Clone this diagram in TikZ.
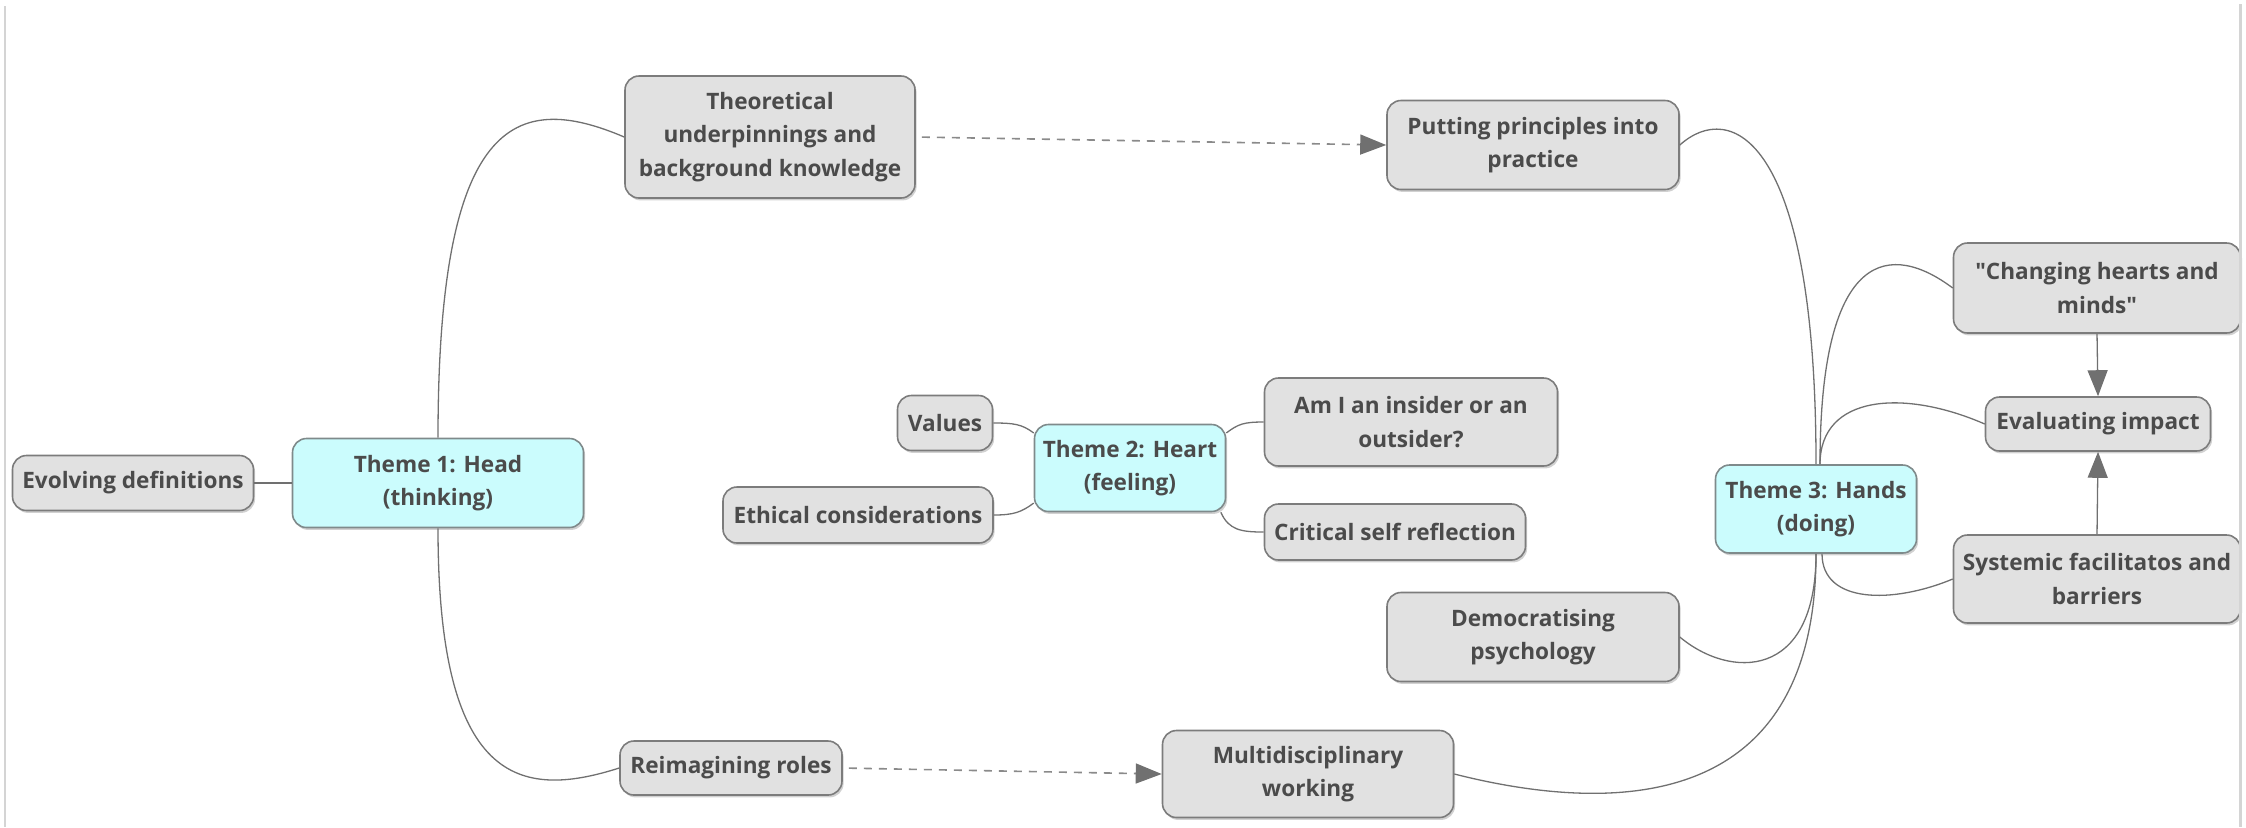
\documentclass[tikz,border=0pt]{standalone}
\usepackage{fontspec}
\newfontfamily\boxfont{Open Sans}
\usepackage{xcolor}
\usetikzlibrary{arrows.meta,positioning,shadows}

\definecolor{boxfill}{HTML}{E1E1E1}
\definecolor{boxline}{HTML}{7C7C7C}
\definecolor{themefill}{HTML}{CBFCFD}
\definecolor{themeline}{HTML}{7F8A8B}
\definecolor{txtgrey}{HTML}{4B4B4B}
\definecolor{linkgrey}{HTML}{707070}
\definecolor{dashgrey}{HTML}{8A8A8A}
\definecolor{framegrey}{HTML}{D4D4D4}

\begin{document}
\begin{tikzpicture}[
    x=0.5pt, y=-0.5pt,
    box/.style={draw=boxline, fill=boxfill, rounded corners=7pt, line width=0.8pt, align=center,
        inner sep=2pt, text=txtgrey, font=\boxfont\bfseries\fontsize{11.3}{16.8}\selectfont,
        drop shadow={shadow xshift=0.8pt, shadow yshift=-1.2pt, opacity=0.18, fill=black}},
    theme/.style={box, fill=themefill, draw=themeline},
    link/.style={draw=linkgrey, line width=0.65pt},
    dlink/.style={draw=dashgrey, line width=0.8pt, dash pattern=on 4pt off 3.5pt, shorten <=3pt,
        -{Triangle[length=13pt, width=10pt, color=linkgrey, fill=linkgrey]}},
    arrow/.style={link, -{Triangle[length=13pt, width=10pt]}},
]
    \useasboundingbox (0,0) rectangle (2246,827);

    % Theme 1
    \node[theme, minimum width=145.5pt, minimum height=44.5pt] (head) at (438,483) {Theme 1: Head\\(thinking)};
    \node[box, minimum width=120.5pt, minimum height=27.5pt] (evolving) at (133,483) {Evolving definitions};
    \node[box, minimum width=145pt, minimum height=61pt] (theory) at (770,137) {Theoretical\\underpinnings and\\background knowledge};
    \node[box, minimum width=111pt, minimum height=27pt] (roles) at (731,768) {Reimagining roles};

    % Theme 2
    \node[theme, minimum width=95.5pt, minimum height=43.5pt] (heart) at (1130,468) {Theme 2: Heart\\(feeling)};
    \node[box, minimum width=47.5pt, minimum height=27.5pt] (values) at (945,423) {Values};
    \node[box, minimum width=135pt, minimum height=28pt] (ethics) at (858,515) {Ethical considerations};
    \node[box, minimum width=146.5pt, minimum height=44pt] (insider) at (1411,422) {Am I an insider or an\\outsider?};
    \node[box, minimum width=130.5pt, minimum height=28pt] (reflect) at (1395,532) {Critical self reflection};

    % Theme 3
    \node[theme, minimum width=100.5pt, minimum height=44pt] (hands) at (1816,509) {Theme 3: Hands\\(doing)};
    \node[box, minimum width=146pt, minimum height=44.5pt] (practice) at (1533,145) {Putting principles into\\practice};
    \node[box, minimum width=146pt, minimum height=44.5pt] (democ) at (1533,637) {Democratising\\psychology};
    \node[box, minimum width=145.5pt, minimum height=43.5pt] (multi) at (1308,774) {Multidisciplinary\\working};
    \node[box, minimum width=143.5pt, minimum height=45pt] (minds) at (2097,288) {"Changing hearts and\\minds"};
    \node[box, minimum width=112.5pt, minimum height=27pt] (impact) at (2098,424) {Evaluating impact};
    \node[box, minimum width=143.5pt, minimum height=44pt] (system) at (2097,579) {Systemic facilitatos and\\barriers};

    % branches of theme 1
    \draw[link] (evolving.east) -- (head.west);
    \draw[link] (head.north) .. controls +(0,-318) and +(-110,-47) .. (theory.west);
    \draw[link] (head.south) .. controls +(0,255) and +(-100,32) .. (roles.west);

    % branches of theme 2
    \draw[link] (heart.160) .. controls +(-12,-9) and +(20,0) .. (values.east);
    \draw[link] (heart.200) .. controls +(-12,9) and +(20,0) .. (ethics.east);
    \draw[link] (heart.20) .. controls +(12,-9) and +(-20,0) .. (insider.west);
    \draw[link] (heart.-26) .. controls +(8,18) and +(-22,0) .. (reflect.west);

    % branches of theme 3
    \draw[link] (hands.north) .. controls +(0,-330) and +(50,-45) .. (practice.east);
    \draw[link] ([xshift=2pt]hands.north) .. controls +(0,-220) and +(-60,-45) .. (minds.west);
    \draw[link] ([xshift=2pt]hands.north) .. controls +(0,-70) and +(-80,-35) .. (impact.west);
    \draw[link] ([xshift=3pt]hands.south) .. controls +(0,50) and +(-60,25) .. (system.west);
    \draw[link] (hands.south) .. controls +(0,127) and +(50,42) .. (democ.east);
    \draw[link] (hands.south) .. controls +(0,265) and +(150,38) .. (multi.east);

    % links between topics
    \draw[dlink] (theory.east) -- (practice.west);
    \draw[dlink] (roles.east) -- (multi.west);
    \draw[arrow] (minds.south) -- (impact.north);
    \draw[arrow] (system.north) -- (impact.south);

    % window edges
    \draw[framegrey, line width=1pt] (5,6) -- (5,827);
    \draw[framegrey, line width=1.5pt] (2240,4) -- (2240,827);
\end{tikzpicture}
\end{document}
